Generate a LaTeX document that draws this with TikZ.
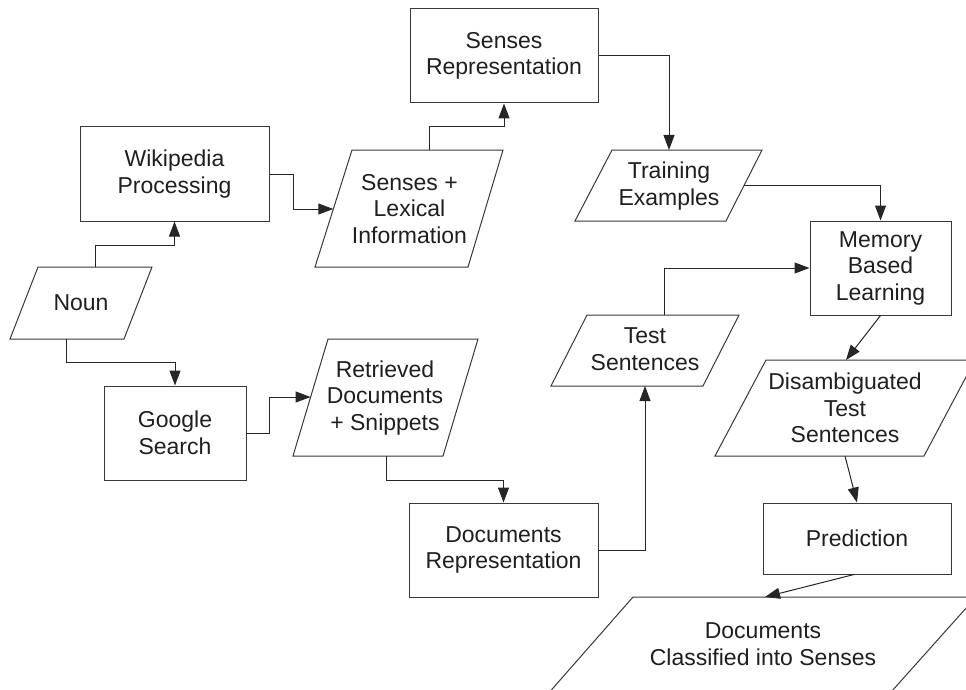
\documentclass[tikz,border=0pt]{standalone}
\usepackage{fontspec}
\setmainfont{Liberation Sans}
\usetikzlibrary{arrows.meta,calc}
\begin{document}
\begin{tikzpicture}[x=1pt,y=-1pt,
  line width=1pt,
  box/.style={draw=black!78,line width=1pt,rectangle,inner sep=0pt,align=center,font=\fontsize{23}{26.5}\selectfont,text=black!88},
  lbl/.style={inner sep=0pt,align=center,font=\fontsize{23}{26.5}\selectfont,text=black!88},
  shp/.style={draw=black!78,line width=1pt},
  arr/.style={draw=black!85,line width=1pt,-{Triangle[length=15pt,width=11pt]}},
]
\useasboundingbox (0,0) rectangle (966,690);
\clip (0,0) rectangle (966,690);

% rectangles
\node[box,minimum width=188pt,minimum height=94pt] (sensesrep) at (504,56) {Senses\\Representation};
\node[box,minimum width=189pt,minimum height=94pt] (wiki) at (174.5,174) {Wikipedia\\Processing};
\node[box,minimum width=142pt,minimum height=94pt] (google) at (175,433) {Google\\Search};
\node[box,minimum width=189pt,minimum height=94pt] (docrep) at (503.5,550) {Documents\\Representation};
\node[box,minimum width=141pt,minimum height=94pt] (memory) at (880.5,268) {Memory\\Based\\Learning};
\node[box,minimum width=188pt,minimum height=71pt] (pred) at (857,538.5) {Prediction};

% parallelograms
\draw[shp] (38,267) -- (152,267) -- (124,339) -- (10,339) -- cycle;
\node[lbl] (noun) at (81,303) {Noun};

\draw[shp] (352,150) -- (503,150) -- (468,267) -- (315,267) -- cycle;
\node[lbl] (senlex) at (409.5,209) {Senses +\\Lexical\\Information};

\draw[shp] (328,339) -- (478,339) -- (443,456) -- (293,456) -- cycle;
\node[lbl] (retr) at (385,398) {Retrieved\\Documents\\+ Snippets};

\draw[shp] (612,150) -- (762,150) -- (726,221) -- (575,221) -- cycle;
\node[lbl] (train) at (669,186) {Training\\Examples};

\draw[shp] (587,315) -- (739,315) -- (703,386) -- (551,386) -- cycle;
\node[lbl] (test) at (645,349) {Test\\Sentences};

\draw[shp] (766,360) -- (975,360) -- (924,456) -- (715,456) -- cycle;
\node[lbl] (disamb) at (845,408) {Disambiguated\\Test\\Sentences};

\draw[shp] (633,597) -- (976,597) -- (866,720) -- (525,720) -- cycle;
\node[lbl] (docclass) at (763,644) {Documents\\Classified into Senses};

% anchor coordinates on parallelograms
\coordinate (nounN) at (95,267);
\coordinate (nounS) at (66,339);
\coordinate (senlexW) at (333.3,209);
\coordinate (senlexN) at (429,150);
\coordinate (retrW) at (310.6,397);
\coordinate (retrS) at (386,456);
\coordinate (trainN) at (669,150);
\coordinate (trainE) at (744,185);
\coordinate (testN) at (664,315);
\coordinate (testS) at (645,386);
\coordinate (disambN) at (846,360);
\coordinate (disambS) at (845,456);
\coordinate (docclassN) at (765,597);

% connectors
\draw[arr] (nounN) -- ++(0,-22) -| (wiki.south);
\draw[arr] (nounS) -- ++(0,23) -| (google.north);
\draw[arr] (wiki.east) -- ++(24,0) |- (senlexW);
\draw[arr] (senlexN) -- ++(0,-23) -| (sensesrep.south);
\draw[arr] (sensesrep.east) -| (trainN);
\draw[arr] (trainE) -| (memory.north);
\draw[arr] (testN) |- (memory.west);
\draw[arr] (docrep.east) -| (testS);
\draw[arr] (google.east) -- ++(23,0) |- (retrW);
\draw[arr] (retrS) -- ++(0,24) -| (docrep.north);
\draw[arr] (memory.south) -- (disambN);
\draw[arr] (disambS) -- (pred.north);
\draw[arr] ([xshift=-3pt]pred.south) -- (docclassN);
\end{tikzpicture}
\end{document}
